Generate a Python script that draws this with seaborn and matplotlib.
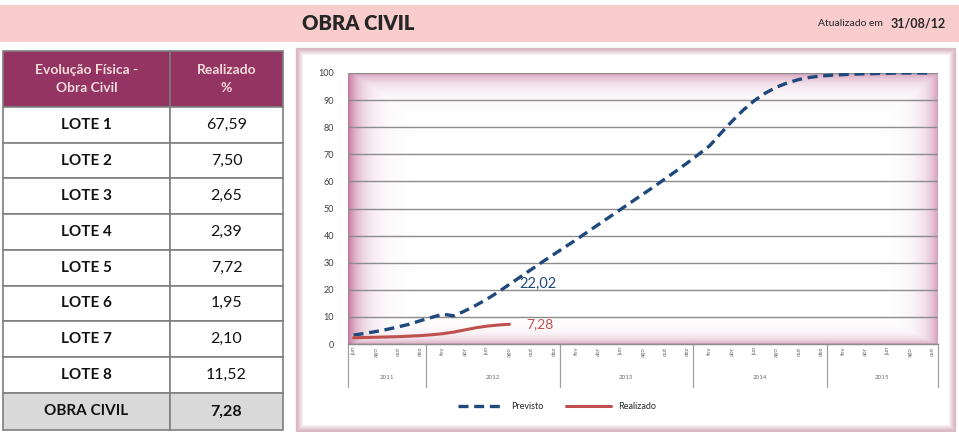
"""
Painel Obra Civil — tabela de lotes + curva Previsto x Realizado
"""

import numpy as np
import pandas as pd
import matplotlib
matplotlib.use("Agg")
import matplotlib.pyplot as plt
import matplotlib.colors as mcolors
from matplotlib.patches import Rectangle
from matplotlib.transforms import blended_transform_factory
import seaborn as sns

# ---- dados ----
lotes = ["LOTE 1", "LOTE 2", "LOTE 3", "LOTE 4", "LOTE 5", "LOTE 6", "LOTE 7", "LOTE 8"]
realizado_lote = [67.59, 7.50, 2.65, 2.39, 7.72, 1.95, 2.10, 11.52]
total_nome = "OBRA CIVIL"
total_valor = 7.28

meses = pd.date_range("2011-06-01", "2015-10-01", freq="MS")
previsto = [3.3, 3.9, 4.6, 5.4, 6.3, 7.3, 8.6, 9.8, 11.0, 10.4,
            12.2, 14.3, 16.6, 19.2, 22.02, 24.8, 27.6, 30.4, 33.1, 35.8,
            38.5, 41.3, 44.1, 46.9, 49.7, 52.5, 55.3, 58.1, 61.0, 63.9,
            66.9, 70.0, 73.2, 77.8, 82.2, 86.3, 89.8, 92.6, 94.8, 96.4,
            97.6, 98.4, 98.9, 99.2, 99.4, 99.6, 99.7, 99.8, 99.9, 100.0,
            100.0, 100.0, 100.0]
realizado = [2.3, 2.4, 2.5, 2.6, 2.7, 2.9, 3.1, 3.4, 3.8, 4.4, 5.2, 6.0, 6.6, 7.0, 7.28]
mes_abrev = ["jan", "fev", "mar", "abr", "mai", "jun", "jul", "ago", "set", "out", "nov", "dez"]
anos = [2011, 2012, 2013, 2014, 2015]

AZUL = "#1F497D"
VERMELHO = "#C0504D"
MAGENTA = "#943462"


def fmt(v):
    return f"{v:.2f}".replace(".", ",")


sns.set_theme(style="white")
plt.rcParams["font.family"] = ["Lato", "DejaVu Sans"]

fig = plt.figure(figsize=(9.59, 4.32), dpi=100)
fig.patch.set_facecolor("white")

# camada de fundo em pixels
bg = fig.add_axes([0, 0, 1, 1])
bg.set_xlim(0, 959)
bg.set_ylim(432, 0)
bg.axis("off")

# cabeçalho
bg.add_patch(Rectangle((0, 5), 959, 37, facecolor="#F9CDCD", edgecolor="none"))
bg.text(358, 23, "OBRA CIVIL", ha="center", va="center", fontsize=14.5, fontweight="heavy")
bg.text(850, 24, "Atualizado em", ha="center", va="center", fontsize=7.5)
bg.text(918, 24, "31/08/12", ha="center", va="center", fontsize=9, fontweight="bold")

# tabela
x0, x1, x2 = 3, 170, 283
y_top, y_head = 51, 107
row_h = 35.7
borda = "#7F7F7F"
bg.add_patch(Rectangle((x0, y_top), x2 - x0, y_head - y_top, facecolor=MAGENTA,
                       edgecolor=borda, lw=1.2))
bg.plot([x1, x1], [y_top, y_head], color=borda, lw=1.2)
bg.text((x0 + x1) / 2, 79, "Evolução Física -\nObra Civil", ha="center", va="center",
        fontsize=10, fontweight="bold", color="#F2DCDB", linespacing=1.6)
bg.text((x1 + x2) / 2, 79, "Realizado\n%", ha="center", va="center",
        fontsize=10, fontweight="bold", color="#F2DCDB", linespacing=1.6)

linhas = list(zip(lotes, realizado_lote)) + [(total_nome, total_valor)]
for k, (nome, valor) in enumerate(linhas):
    ya = y_head + k * row_h
    total = k == len(linhas) - 1
    h = 430 - ya if total else row_h
    cor = "#D9D9D9" if total else "white"
    for xa, xb in [(x0, x1), (x1, x2)]:
        bg.add_patch(Rectangle((xa, ya), xb - xa, h, facecolor=cor, edgecolor=borda, lw=1.2))
    bg.text((x0 + x1) / 2, ya + h / 2, nome, ha="center", va="center",
            fontsize=11, fontweight="bold", color="#111111")
    bg.text((x1 + x2) / 2, ya + h / 2, fmt(valor), ha="center", va="center",
            fontsize=11.5, fontweight="bold" if total else "normal", color="#111111")

# moldura do gráfico com brilho rosado
fx0, fy0, fx1, fy1 = 296, 48, 955, 431
for k in range(7):
    bg.add_patch(Rectangle((fx0 + k, fy0 + k), fx1 - fx0 - 2 * k, fy1 - fy0 - 2 * k,
                           fill=False, edgecolor="#B0607F", lw=1,
                           alpha=0.4 * (1 - k / 7)))

# ---- gráfico ----
ax = fig.add_axes([348 / 959, 1 - 344 / 432, 590 / 959, 271 / 432])
ax.patch.set_alpha(0)

n = len(meses)
xlim = (-0.5, n - 0.5)

# degradê nas bordas da área de plotagem
hp, wp = 271, 590
yy, xx = np.mgrid[0:hp, 0:wp]
alfa = np.maximum.reduce([
    np.exp(-xx / 13.0),
    np.exp(-(wp - 1 - xx) / 12.0) * 0.7,
    np.exp(-yy / 10.0) * 0.7,
    np.exp(-(hp - 1 - yy) / 6.0) * 0.6,
]) * 0.65
rgba = np.zeros((hp, wp, 4))
rgba[..., :3] = mcolors.to_rgb("#A8326E")
rgba[..., 3] = alfa
ax.imshow(rgba, extent=(xlim[0], xlim[1], 0, 100), aspect="auto", zorder=0,
          interpolation="bilinear")

sns.lineplot(x=np.arange(len(previsto)), y=previsto, ax=ax, color=AZUL, lw=2.4,
             label="Previsto", dashes=False, zorder=3)
ax.lines[-1].set_dashes((3, 1.7))
sns.lineplot(x=np.arange(len(realizado)), y=realizado, ax=ax, color=VERMELHO, lw=2.2,
             label="Realizado", zorder=3)

ult = len(realizado) - 1
ax.text(ult + 0.9, previsto[ult], fmt(previsto[ult]), ha="left", va="center",
        fontsize=10.5, color=AZUL)
ax.text(ult + 1.5, realizado[ult] + 0.2, fmt(realizado[ult]), ha="left", va="center",
        fontsize=10, color=VERMELHO)

ax.set_xlim(*xlim)
ax.set_ylim(0, 100)
ax.set_yticks(range(0, 101, 10))
ax.yaxis.grid(True, color="#8C8C8C", lw=1)
ax.set_axisbelow(True)
ax.tick_params(axis="y", labelsize=6.5, labelcolor="#404040", length=0, pad=10)

for s in ["top", "right", "left"]:
    ax.spines[s].set_visible(False)
ax.spines["bottom"].set_color("#8C8C8C")
ax.spines["bottom"].set_linewidth(1)

# rótulos de mês (bimestrais)
pos = list(range(0, n, 2))
ax.set_xticks(pos)
ax.set_xticklabels([mes_abrev[meses[i].month - 1] for i in pos], rotation=90,
                   fontsize=4.5, color="#707070")
ax.tick_params(axis="x", length=0, pad=2)
ax.set_xticks([i - 0.5 for i in pos if i > 0], minor=True)
ax.tick_params(axis="x", which="minor", length=12, width=0.8, color="#A0A0A0")
ax.set_xlabel("")
ax.set_ylabel("")

# anos e divisórias
tr = blended_transform_factory(ax.transData, ax.transAxes)
inicio = [-0.5] + [i - 0.5 for i in range(n) if meses[i].month == 1] + [n - 0.5]
for a, b, ano in zip(inicio[:-1], inicio[1:], anos):
    ax.text((a + b) / 2, -0.125, str(ano), transform=tr, ha="center", va="center",
            fontsize=4.5, color="#707070")
for b in inicio:
    ax.plot([b, b], [0, -0.16], transform=tr, color="#A0A0A0", lw=0.9, clip_on=False)

ax.legend(loc="center", bbox_to_anchor=(0.581, 0.058), bbox_transform=fig.transFigure,
          ncol=2, frameon=False, fontsize=6.5, handlelength=5, columnspacing=2.5)

fig.savefig("out.png", dpi=100)
plt.close(fig)
